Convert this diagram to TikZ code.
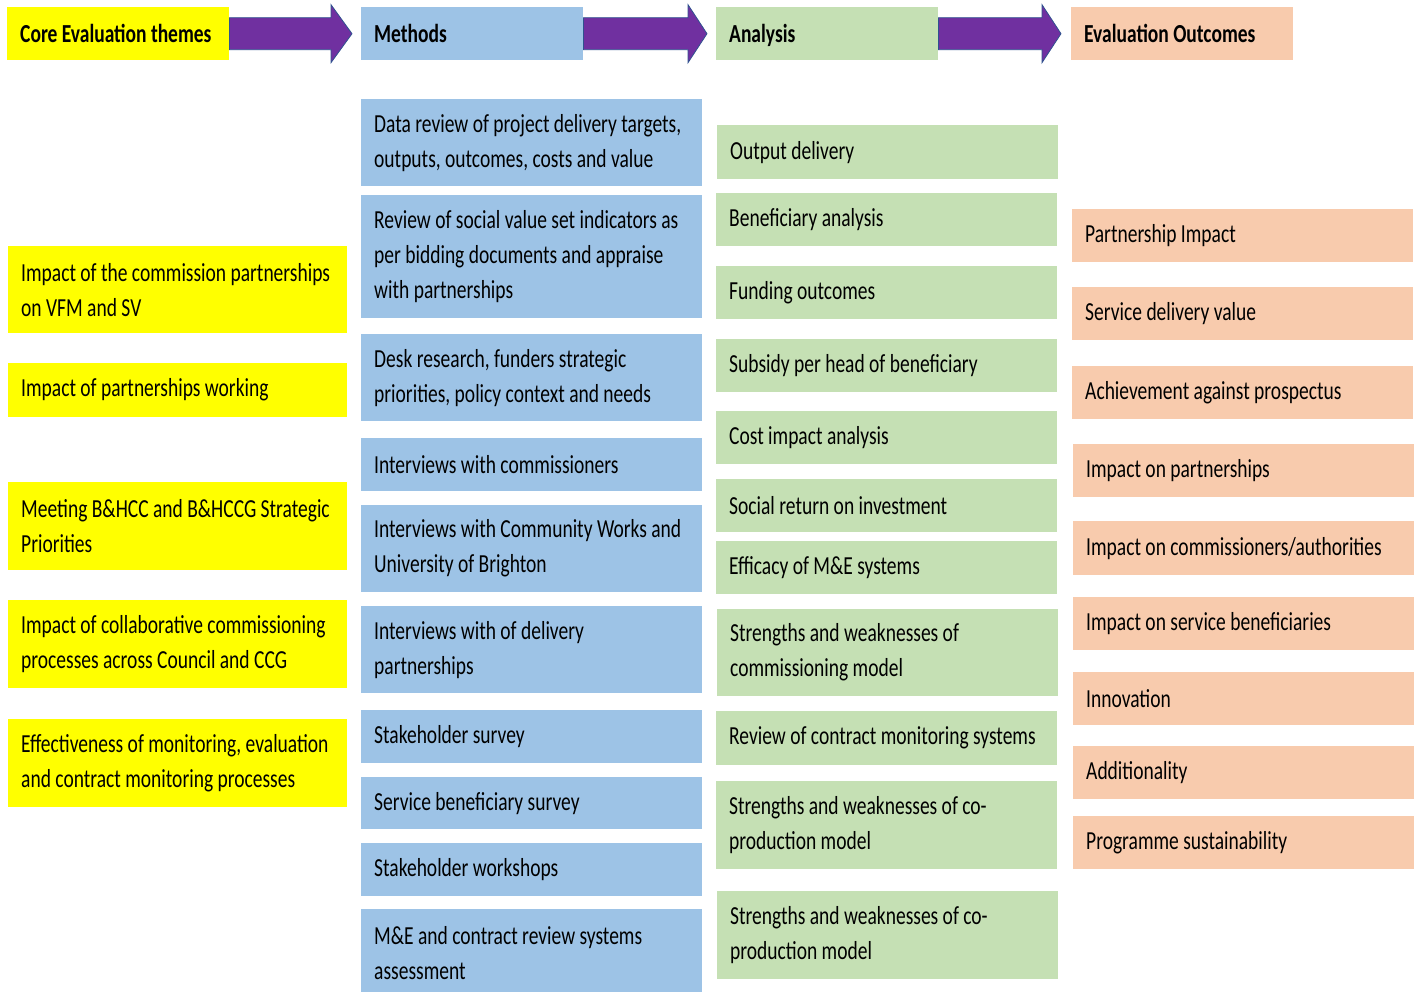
\documentclass[tikz,border=0pt]{standalone}
\usepackage{fontspec}
\setmainfont{Carlito}[FakeStretch=0.75]

\definecolor{themeyellow}{HTML}{FFFF00}
\definecolor{methodblue}{HTML}{9DC3E6}
\definecolor{analysisgreen}{HTML}{C5E0B4}
\definecolor{outcomeorange}{HTML}{F8CBAD}
\definecolor{arrowpurple}{HTML}{7030A0}
\definecolor{arrowline}{HTML}{2F528F}

\begin{document}
\begin{tikzpicture}[x=1pt, y=-1pt,
        font=\fontsize{26pt}{35pt}\selectfont,
        box/.style={anchor=north west, inner xsep=13pt, inner ysep=0pt, align=flush left,
            execute at begin node={\spaceskip=0pt\hyphenpenalty=10000\relax},
            text width=315pt, minimum height=53pt},
        head/.style={box, text width=196pt, text depth=0pt,
            font=\fontsize{26pt}{35pt}\selectfont\bfseries},
        theme/.style={box, fill=themeyellow, text width=313pt},
        method/.style={box, fill=methodblue},
        analysis/.style={box, fill=analysisgreen},
        outcome/.style={box, fill=outcomeorange},
        bigarrow/.style={draw=arrowline, line width=0.8pt, fill=arrowpurple, line join=miter}]
        \useasboundingbox (0,0) rectangle (1419,992);

        % column headers
        \node [head, fill=themeyellow] (t0) at (7, 7) {Core Evaluation themes};
        \node [head, fill=methodblue] (m0) at (361, 7) {Methods};
        \node [head, fill=analysisgreen] (a0) at (716, 7) {Analysis};
        \node [head, fill=outcomeorange] (o0) at (1071, 7) {Evaluation Outcomes};

        \draw [bigarrow] ([yshift=16pt]t0.east) -- ([xshift=-30pt, yshift=16pt]m0.west) -- ++(0, -13)
            -- ([xshift=-9pt]m0.west) -- ++(-21, 29) -- ++(0, -13) -- ([yshift=-16pt]t0.east) -- cycle;
        \draw [bigarrow] ([yshift=16pt]m0.east) -- ([xshift=-28pt, yshift=16pt]a0.west) -- ++(0, -13)
            -- ([xshift=-9pt]a0.west) -- ++(-19, 29) -- ++(0, -13) -- ([yshift=-16pt]m0.east) -- cycle;
        \draw [bigarrow] ([yshift=16pt]a0.east) -- ([xshift=-29pt, yshift=16pt]o0.west) -- ++(0, -13)
            -- ([xshift=-10pt]o0.west) -- ++(-19, 29) -- ++(0, -13) -- ([yshift=-16pt]a0.east) -- cycle;

        % core evaluation themes
        \node [theme, minimum height=87pt] (t1) at (8, 246) {Impact of the commission partnerships\\on VFM and SV};
        \node [theme, minimum height=54pt] (t2) at (8, 363) {Impact of partnerships working};
        \node [theme, minimum height=88pt] (t3) at (8, 482) {Meeting B\&HCC and B\&HCCG Strategic\\Priorities};
        \node [theme, minimum height=88pt] (t4) at (8, 600) {Impact of collaborative commissioning\\processes across Council and CCG};
        \node [theme, minimum height=88pt] (t5) at (8, 719) {Effectiveness of monitoring, evaluation\\and contract monitoring processes};

        % methods
        \node [method, minimum height=87pt] (m1) at (361, 99) {Data review of project delivery targets,\\outputs, outcomes, costs and value};
        \node [method, minimum height=123pt] (m2) at (361, 195) {Review of social value set indicators as\\per bidding documents and appraise\\with partnerships};
        \node [method, minimum height=87pt] (m3) at (361, 334) {Desk research, funders strategic\\priorities, policy context and needs};
        \node [method] (m4) at (361, 438) {Interviews with commissioners};
        \node [method, minimum height=87pt] (m5) at (361, 505) {Interviews with Community Works and\\University of Brighton};
        \node [method, minimum height=87pt] (m6) at (361, 606) {Interviews with of delivery\\partnerships};
        \node [method] (m7) at (361, 710) {Stakeholder survey};
        \node [method, minimum height=52pt] (m8) at (361, 777) {Service beneficiary survey};
        \node [method] (m9) at (361, 843) {Stakeholder workshops};
        \node [method, minimum height=87pt] (m10) at (361, 909) {M\&E and contract review systems\\assessment};

        % analysis
        \node [analysis, minimum height=54pt] (a1) at (717, 125) {Output delivery};
        \node [analysis] (a2) at (716, 193) {Beneficiary analysis};
        \node [analysis] (a3) at (716, 266) {Funding outcomes};
        \node [analysis] (a4) at (716, 339) {Subsidy per head of beneficiary};
        \node [analysis] (a5) at (716, 411) {Cost impact analysis};
        \node [analysis] (a6) at (716, 479) {Social return on investment};
        \node [analysis] (a7) at (716, 541) {Efficacy of M\&E systems};
        \node [analysis, minimum height=87pt] (a8) at (717, 609) {Strengths and weaknesses of\\commissioning model};
        \node [analysis, minimum height=54pt] (a9) at (716, 711) {Review of contract monitoring systems};
        \node [analysis, minimum height=88pt] (a10) at (716, 781) {Strengths and weaknesses of co-\\production model};
        \node [analysis, minimum height=88pt] (a11) at (717, 891) {Strengths and weaknesses of co-\\production model};

        % evaluation outcomes
        \node [outcome] (o1) at (1072, 209) {Partnership Impact};
        \node [outcome] (o2) at (1072, 287) {Service delivery value};
        \node [outcome] (o3) at (1072, 366) {Achievement against prospectus};
        \node [outcome] (o4) at (1073, 444) {Impact on partnerships};
        \node [outcome, minimum height=54pt] (o5) at (1073, 521) {Impact on commissioners/authorities};
        \node [outcome] (o6) at (1073, 597) {Impact on service beneficiaries};
        \node [outcome] (o7) at (1073, 672) {Innovation};
        \node [outcome] (o8) at (1073, 746) {Additionality};
        \node [outcome] (o9) at (1073, 816) {Programme sustainability};

    \end{tikzpicture}
\end{document}
